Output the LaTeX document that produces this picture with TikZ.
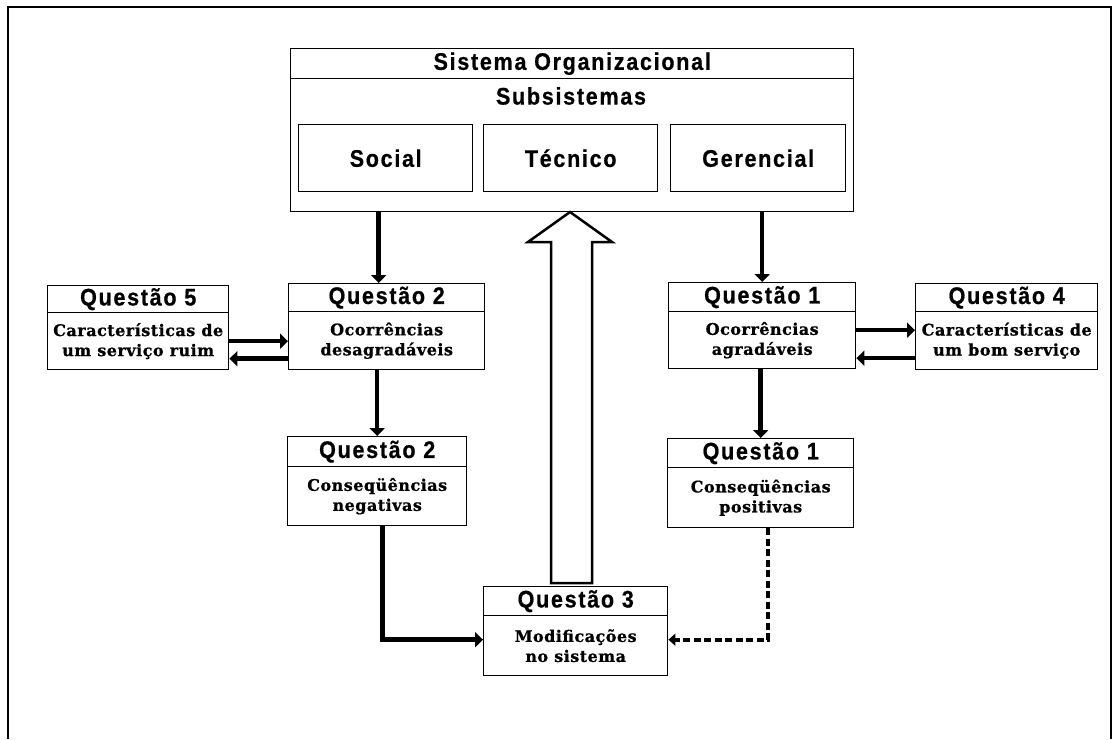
\documentclass[tikz,border=0pt]{standalone}
\usepackage{fontspec}
\usetikzlibrary{arrows.meta,calc}
\newfontfamily\headfont{Liberation Sans}[FakeStretch=0.9,LetterSpace=7,FakeBold=0.6]
\newfontfamily\bodyfont{DejaVu Serif}[LetterSpace=3,FakeBold=0.8]

\begin{document}
\begin{tikzpicture}[x=1pt,y=-1pt,
  box/.style={draw, line width=1.4pt, anchor=north west, inner sep=0pt, align=center},
  hd/.style={box, font={\headfont\bfseries\fontsize{24}{28}\selectfont}},
  bd/.style={box, font={\bodyfont\bfseries\fontsize{16}{20}\selectfont}},
  headtext/.style={inner sep=0pt, font={\headfont\bfseries\fontsize{24}{28}\selectfont}},
  arr/.style={line width=4.5pt, line join=miter, -{Triangle[length=8pt,width=15pt]}},
  darr/.style={line width=4pt, line join=miter, dash pattern=on 7pt off 3.5pt,
               -{Triangle[length=7pt,width=12pt]}},
  bigarrow/.style={line width=2.5pt, fill=white, line join=miter}
]
\useasboundingbox (0,0) rectangle (1115,739);

% page frame, open at the bottom
\draw[line width=1.5pt] (8,739) -- (8,7) -- (1111,7) -- (1111,739);

% organisational system with its three subsystems
\node[hd, minimum width=563pt, minimum height=30pt] (mainh) at (290,48) {Sistema Organizacional};
\node[box, minimum width=563pt, minimum height=133pt] (main) at (290,78) {};
\node[headtext] (subs) at (571,96) {Subsistemas};
\node[hd, minimum width=174pt, minimum height=67pt] (social) at (298,124) {Social};
\node[hd, minimum width=174pt, minimum height=67pt] (tecnico) at (483,124) {Técnico};
\node[hd, minimum width=175pt, minimum height=67pt] (gerencial) at (670,124) {Gerencial};

% question boxes: header + body
\node[hd, minimum width=181pt, minimum height=27pt] (q5h) at (47,285) {Questão 5};
\node[bd, minimum width=181pt, minimum height=57pt] (q5b) at (47,312) {Características de\\um serviço ruim};

\node[hd, minimum width=196pt, minimum height=28pt] (q2ah) at (288,283) {Questão 2};
\node[bd, minimum width=196pt, minimum height=58pt] (q2ab) at (288,311) {Ocorrências\\desagradáveis};

\node[hd, minimum width=187pt, minimum height=29pt] (q1ah) at (668,282) {Questão 1};
\node[bd, minimum width=187pt, minimum height=57pt] (q1ab) at (668,311) {Ocorrências\\agradáveis};

\node[hd, minimum width=182pt, minimum height=28pt] (q4h) at (915,283) {Questão 4};
\node[bd, minimum width=182pt, minimum height=58pt] (q4b) at (915,311) {Características de\\um bom serviço};

\node[hd, minimum width=179pt, minimum height=30pt] (q2bh) at (287,436) {Questão 2};
\node[bd, minimum width=179pt, minimum height=59pt] (q2bb) at (287,466) {Conseqüências\\negativas};

\node[hd, minimum width=186pt, minimum height=29pt] (q1bh) at (667,438) {Questão 1};
\node[bd, minimum width=186pt, minimum height=60pt] (q1bb) at (667,467) {Conseqüências\\positivas};

\node[hd, minimum width=184pt, minimum height=29pt] (q3h) at (483,586) {Questão 3};
\node[bd, minimum width=184pt, minimum height=60pt] (q3b) at (483,615) {Modificações\\no sistema};

% hollow feedback arrow from the changes back to the system
\draw[bigarrow] (551,583) -- (551,242) -- (528,242) -- (570,212) -- (612,242)
  -- (592,242) -- (592,583) -- cycle;

% connectors
\draw[arr] ($(q2ah.north |- main.south)+(-8,0)$) -- ($(q2ah.north)+(-8,0)$);
\draw[arr] (q1ah.north |- main.south) -- (q1ah.north);
\draw[arr] (q2bh.north |- q2ab.south) -- (q2bh.north);
\draw[arr] (q1bh.north |- q1ab.south) -- (q1bh.north);

\draw[arr] (q5b.east) -- (q5b.east -| q2ab.west);
\draw[arr] ($(q2ab.west)+(0,18)$) coordinate (r5) -- (r5 -| q5b.east);
\draw[arr] ($(q1ab.east)+(0,-10)$) coordinate (r4) -- (r4 -| q4b.west);
\draw[arr] ($(q4b.west)+(0,17.5)$) coordinate (l1) -- (l1 -| q1ab.east);

\draw[arr] ($(q2bb.south)+(5.5,0)$) |- ($(q3b.west)+(0,-6)$);
\draw[darr] ($(q1bb.south)+(7,0)$) |- ($(q3b.east)+(0,-6)$);
\end{tikzpicture}
\end{document}
